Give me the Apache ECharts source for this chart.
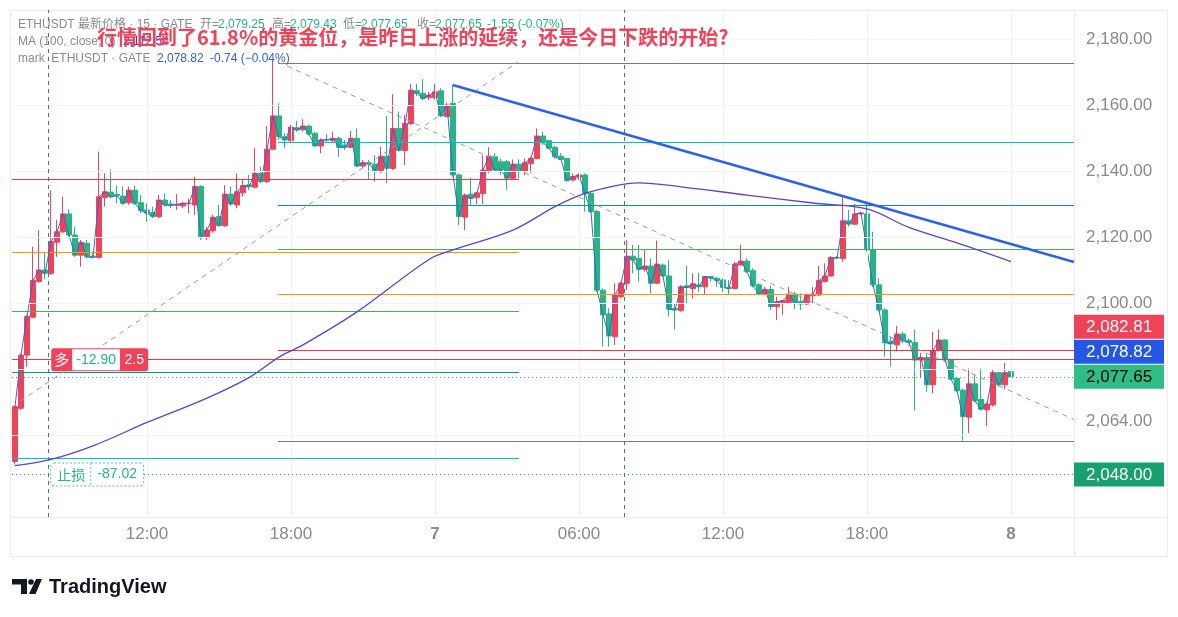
<!DOCTYPE html>
<html><head><meta charset="utf-8">
<script src="https://cdn.jsdelivr.net/npm/echarts@6/dist/echarts.min.js"></script>
<style>html,body{margin:0;padding:0;background:#fff;}#c{width:1178px;height:617px;}</style>
</head><body><div id="c"></div>
<script>
// ---------- DATA (15-minute candles, ETHUSDT) ----------
const opens = [2052.0,2068.1,2084.2,2095.7,2106.5,2110.0,2109.0,2118.4,2121.6,2127.0,
2120.6,2114.5,2118.1,2114.2,2113.8,2132.0,2133.6,2132.9,2132.4,2130.4,
2134.2,2130.4,2128.2,2127.4,2126.2,2131.2,2130.0,2129.6,2129.4,2130.1,
2129.7,2135.3,2120.1,2121.9,2126.2,2123.4,2133.0,2129.7,2133.4,2135.8,
2135.1,2139.3,2136.8,2146.6,2156.7,2150.4,2149.2,2153.1,2152.6,2153.6,
2151.4,2147.6,2149.6,2149.2,2149.9,2147.9,2147.2,2149.9,2141.5,2142.5,
2142.1,2140.1,2144.5,2140.8,2152.9,2146.2,2154.4,2164.3,2163.5,2162.3,
2162.3,2164.3,2156.5,2160.5,2138.8,2126.0,2133.0,2132.0,2133.2,2140.1,
2144.3,2142.8,2142.8,2137.8,2142.1,2139.8,2142.3,2143.8,2150.6,2149.2,
2147.2,2144.5,2143.8,2137.3,2138.1,2138.8,2133.2,2127.7,2103.9,2096.7,
2089.8,2101.9,2106.0,2114.2,2113.5,2110.2,2111.2,2106.0,2111.5,2108.2,
2098.3,2097.7,2105.2,2104.4,2105.5,2104.9,2108.0,2107.5,2107.0,2104.7,
2104.4,2111.5,2112.7,2109.8,2105.5,2102.7,2104.1,2098.9,2100.1,2100.1,
2102.7,2100.4,2099.7,2102.2,2102.4,2106.5,2108.2,2113.8,2113.5,2124.9,
2123.9,2127.0,2127.0,2116.1,2105.5,2097.9,2088.3,2087.3,2090.6,2088.6,
2088.0,2082.7,2083.5,2075.2,2085.6,2088.8,2082.7,2077.2,2073.6,2065.4,
2075.5,2070.8,2067.6,2069.1,2078.9,2075.2,2079.25];
const closes = [2068.6,2084.2,2095.9,2106.8,2110.0,2109.0,2118.6,2121.6,2127.0,2120.6,
2114.5,2118.4,2114.0,2113.8,2132.2,2133.7,2132.2,2132.5,2130.2,2134.2,
2130.2,2128.0,2127.2,2126.2,2131.2,2129.7,2129.6,2129.9,2130.2,2130.2,
2135.3,2120.1,2122.1,2126.0,2123.4,2133.0,2130.0,2133.7,2135.6,2135.2,
2139.3,2136.8,2146.6,2156.7,2150.4,2149.4,2153.3,2152.4,2153.6,2151.2,
2147.6,2149.4,2149.4,2149.9,2147.2,2147.2,2149.9,2141.5,2142.5,2142.1,
2140.1,2144.5,2140.8,2152.9,2146.2,2154.4,2164.5,2163.5,2162.0,2163.0,
2164.0,2156.7,2160.0,2138.8,2126.2,2132.7,2131.7,2133.4,2140.3,2144.5,
2140.3,2140.3,2137.8,2142.1,2139.8,2142.5,2143.8,2150.6,2148.6,2146.9,
2144.3,2143.5,2137.1,2138.3,2138.8,2133.2,2127.7,2103.9,2096.4,2090.0,
2102.4,2106.0,2114.2,2113.0,2110.2,2111.2,2106.0,2111.8,2108.2,2098.1,
2097.9,2104.9,2104.7,2105.8,2104.9,2108.0,2107.6,2106.8,2104.7,2104.4,
2111.8,2112.7,2109.5,2105.2,2102.7,2104.1,2098.9,2100.4,2100.7,2102.7,
2100.1,2099.7,2102.4,2102.7,2106.8,2108.2,2113.8,2113.6,2124.9,2123.9,
2127.0,2127.3,2116.1,2105.5,2097.9,2088.0,2087.6,2090.6,2088.6,2088.0,
2082.7,2083.5,2075.2,2085.6,2088.8,2082.7,2076.9,2073.4,2065.6,2075.5,
2070.4,2067.8,2069.4,2078.9,2075.2,2078.9,2077.65];
const lows = [2051.0,2067.6,2080.7,2095.4,2106.2,2107.2,2108.5,2114.0,2121.1,2120.1,
2114.0,2111.0,2113.5,2113.5,2113.5,2129.2,2131.7,2130.2,2129.7,2129.7,
2129.7,2127.2,2124.6,2125.7,2125.7,2129.2,2128.7,2128.2,2128.7,2127.2,
2126.7,2119.1,2119.1,2121.3,2123.1,2123.1,2129.4,2128.7,2132.2,2134.2,
2134.7,2136.3,2136.3,2146.4,2149.4,2146.9,2148.8,2151.9,2151.9,2150.9,
2147.2,2145.4,2148.9,2148.6,2144.3,2146.4,2146.9,2141.1,2140.8,2137.3,
2136.8,2139.3,2136.3,2140.3,2145.9,2141.8,2153.9,2162.7,2161.5,2161.5,
2161.7,2156.3,2156.3,2138.3,2123.6,2122.1,2129.7,2130.0,2130.0,2139.3,
2139.8,2138.8,2134.2,2137.3,2137.8,2138.8,2139.3,2143.5,2147.9,2146.6,
2143.8,2143.3,2136.8,2136.8,2137.3,2127.7,2127.2,2103.4,2086.8,2086.8,
2087.3,2101.4,2103.9,2109.0,2106.5,2109.5,2102.9,2105.8,2108.0,2095.9,
2092.0,2097.4,2099.9,2101.4,2103.4,2102.4,2106.5,2104.9,2103.4,2102.4,
2104.1,2111.5,2109.2,2104.7,2102.4,2102.4,2097.9,2094.8,2096.4,2099.7,
2098.1,2097.9,2099.4,2099.9,2102.2,2106.2,2108.0,2113.4,2112.5,2123.1,
2123.6,2126.7,2115.6,2104.9,2097.4,2083.7,2080.7,2085.3,2087.8,2087.8,
2067.4,2077.2,2073.1,2072.6,2085.3,2082.2,2076.7,2073.0,2058.3,2060.5,
2069.8,2067.4,2062.7,2068.6,2074.6,2073.8,2077.65];
const highs = [2068.6,2084.7,2096.4,2117.1,2122.1,2115.1,2134.2,2125.2,2132.2,2128.4,
2123.1,2119.1,2119.1,2115.1,2145.9,2139.3,2140.3,2135.6,2135.3,2135.3,
2135.6,2132.7,2130.2,2129.2,2132.7,2133.2,2131.2,2133.0,2130.7,2131.7,
2138.3,2135.7,2123.1,2126.7,2129.7,2135.7,2135.3,2139.3,2137.3,2138.8,
2146.9,2141.3,2153.6,2173.4,2160.5,2151.4,2153.9,2155.2,2155.7,2153.9,
2151.9,2149.9,2151.2,2151.9,2150.4,2149.4,2152.2,2152.9,2143.3,2143.3,
2144.8,2147.4,2156.7,2163.3,2158.0,2157.0,2166.4,2166.4,2167.8,2164.0,
2166.4,2165.1,2160.7,2166.1,2139.3,2133.2,2137.8,2133.7,2144.8,2147.2,
2145.4,2143.8,2143.3,2143.5,2143.5,2143.8,2144.3,2152.9,2151.9,2149.4,
2147.6,2145.4,2143.8,2139.3,2139.3,2139.3,2133.7,2128.2,2104.4,2098.4,
2106.0,2106.5,2119.1,2117.6,2117.6,2116.1,2113.5,2118.9,2112.0,2113.0,
2099.9,2105.5,2111.2,2109.0,2109.2,2108.2,2108.2,2108.0,2107.5,2107.0,
2112.5,2117.6,2113.5,2110.5,2106.0,2104.9,2105.2,2101.9,2100.9,2104.9,
2103.4,2102.9,2102.9,2104.9,2111.2,2112.0,2114.2,2114.2,2132.0,2128.2,
2130.0,2127.7,2130.2,2121.6,2107.5,2098.4,2089.8,2093.0,2091.3,2089.3,
2091.8,2084.9,2084.7,2091.3,2092.0,2089.0,2083.2,2077.5,2074.1,2080.2,
2078.2,2080.2,2069.8,2079.9,2079.2,2081.9,2079.43];

// MA(100) at bar indices
const maIdx  = [0, 6, 13, 22, 32, 39, 44, 48, 57, 69, 73, 83, 90, 95, 101, 104, 111, 122, 133, 142, 149, 157, 166];
const maVals = [2050.7,2052.6,2056.7,2063.8,2071.2,2077.4,2083.6,2087.3,2097.3,2113.2,2116.1,2122.1,2129.2,2133.2,2135.9,2136.4,2135.2,2132.7,2130.3,2128.5,2122.9,2118.2,2112.54];

// price-axis tick labels
const yTicks = [2064, 2100, 2120, 2140, 2160, 2180];
const gridPrices = [2060, 2080, 2100, 2120, 2140, 2160, 2180];

// fib retracement A (left) and B (right)
const fibARange = [-0.5, 84.0];
const fibALevels = [2137.58, 2115.45, 2097.58, 2079.09, 2053.03];
const fibBRange = [43.83, 176.5];
const fibBLevels = [2172.73, 2148.79, 2129.70, 2116.36, 2102.73, 2085.76, 2058.18];

// trend lines [barIndex, price]
const riseDash = [[-0.5, 2068.5], [83.83, 2173.03]];
const fallDash = [[43.83, 2173.03], [176.5, 2064.7]];
const blueTrend = [[72.95, 2166.06], [176.5, 2112.42]];
const sessionBreaks = [5.55, 101.55];

// position tool
const posStart = 5.95;
const entryPrice = 2082.81, stopPrice = 2048.00, lastPrice = 2077.65, markPrice = 2078.82;
const posPnl = '-12.90', posQty = '2.5', stopPnl = '-87.02';

// ---------- STYLE ----------
const FONT = '"Liberation Sans", Arial, "Noto Sans CJK SC", sans-serif';
const CJK = '"Noto Sans CJK SC", "Liberation Sans", sans-serif';
const UP = '#f0435a', DOWN = '#27b583';
const fibAColors = ['#f23645', '#ff9800', '#4caf50', '#089981', '#00bcd4'];
const fibBColors = ['#787b86', '#00bcd4', '#089981', '#4caf50', '#ff9800', '#f23645', '#787b86'];

const SLOTS = 177;
const firstBarMin = 6 * 1440 + 6 * 60 + 30;
const categories = [];
for (let i = 0; i < SLOTS; i++) {
  const m = firstBarMin + 15 * i;
  const d = Math.floor(m / 1440), hh = Math.floor((m % 1440) / 60), mm = m % 60;
  categories.push(d + ' ' + String(hh).padStart(2, '0') + ':' + String(mm).padStart(2, '0'));
}
function isMajor(c) { const t = c.split(' ')[1]; return +t.slice(3) === 0 && (+t.slice(0, 2)) % 6 === 0; }
const majorIdx = categories.map((c, i) => isMajor(c) ? i : -1).filter(i => i >= 0);
const fmt = v => Number(v).toLocaleString('en-US', { minimumFractionDigits: 2, maximumFractionDigits: 2 });

const candleData = opens.map((o, i) => [o, closes[i], lows[i], highs[i]]);

const lines = [];
gridPrices.forEach(v => lines.push({ yAxis: v, lineStyle: { color: '#f3f4f6', width: 1, type: 'solid' } }));
majorIdx.forEach(i => lines.push({ xAxis: i, lineStyle: { color: '#f0f1f4', width: 1, type: 'solid' } }));
fibALevels.forEach((v, i) => lines.push([{ coord: [fibARange[0], v], lineStyle: { color: fibAColors[i], width: 1, type: 'solid' } }, { coord: [fibARange[1], v] }]));
fibBLevels.forEach((v, i) => lines.push([{ coord: [fibBRange[0], v], lineStyle: { color: fibBColors[i], width: 1, type: 'solid' } }, { coord: [fibBRange[1], v] }]));
lines.push({ yAxis: entryPrice, lineStyle: { color: '#f23645', width: 1, type: 'solid' } });
lines.push({ yAxis: lastPrice, lineStyle: { color: '#27b583', width: 1, type: [1, 3] } });
lines.push({ yAxis: stopPrice, lineStyle: { color: '#1f9e74', width: 1, type: [1, 3] } });
lines.push([{ coord: riseDash[0], lineStyle: { color: '#9a9ca3', width: 1, type: [5, 5] } }, { coord: riseDash[1] }]);
lines.push([{ coord: fallDash[0], lineStyle: { color: '#9a9ca3', width: 1, type: [5, 5] } }, { coord: fallDash[1] }]);
lines.push([{ coord: blueTrend[0], lineStyle: { color: '#2e62ea', width: 2.6, type: 'solid' } }, { coord: blueTrend[1] }]);
sessionBreaks.forEach(x => lines.push({ xAxis: x, lineStyle: { color: '#4068d6', width: 1, type: [4, 4] } }));

const chart = echarts.init(document.getElementById('c'), null, { width: 1178, height: 617 });
chart.setOption({
  animation: false,
  backgroundColor: '#ffffff',
  grid: { left: 12, right: 104, top: 10, bottom: 100, containLabel: false },
  xAxis: [{
    type: 'category', data: categories, boundaryGap: true,
    axisLine: { show: false }, axisTick: { show: false }, splitLine: { show: false },
    axisLabel: {
      interval: (i, v) => isMajor(v), margin: 9, color: '#8a8a8a', fontSize: 17, fontFamily: FONT,
      formatter: v => { const [d, t] = v.split(' '); return t === '00:00' ? '{d|' + d + '}' : t; },
      rich: { d: { fontWeight: 'bold', fontSize: 17, color: '#8a8a8a', fontFamily: FONT } }
    }
  }, {
    type: 'value', min: -0.5, max: 176.5, show: false
  }],
  yAxis: {
    type: 'value', position: 'right', min: 2035.152, max: 2188.788, scale: true,
    axisLine: { show: false }, axisTick: { show: false, customValues: yTicks }, splitLine: { show: false },
    axisLabel: { customValues: yTicks, formatter: v => fmt(v), color: '#8a8a8a', fontSize: 17, fontFamily: FONT, margin: 12 }
  },
  series: [{
    type: 'candlestick', xAxisIndex: 0, data: candleData, barWidth: 4.6, z: 3,
    itemStyle: { color: UP, color0: DOWN, borderColor: UP, borderColor0: DOWN, borderWidth: 1 }
  }, {
    type: 'line', name: 'mark', xAxisIndex: 0, data: closes, showSymbol: false, symbol: 'none', z: 4,
    lineStyle: { color: '#3a62e0', width: 1 }, silent: true
  }, {
    type: 'line', name: 'MA', xAxisIndex: 1, data: maIdx.map((x, i) => [x, maVals[i]]), smooth: 0.35,
    showSymbol: false, symbol: 'none', z: 5, silent: true, clip: true,
    lineStyle: { color: '#5a44d8', width: 1.3 },
    markLine: { silent: true, animation: false, symbol: ['none', 'none'], label: { show: false }, emphasis: { disabled: true }, data: lines },
    markPoint: {
      silent: true, animation: false, symbol: 'rect', symbolSize: [1, 1], itemStyle: { color: 'rgba(0,0,0,0)' },
      data: [{
        coord: [posStart, entryPrice],
        label: {
          show: true, position: 'right', distance: 0,
          formatter: '{a|多}{b|' + posPnl + '}{c|' + posQty + '}',
          rich: {
            a: { backgroundColor: '#f0435a', color: '#fff', fontSize: 15, fontFamily: CJK, width: 21, height: 23, lineHeight: 23, align: 'center', borderRadius: [3, 0, 0, 3] },
            b: { backgroundColor: '#fff', borderColor: '#f0435a', borderWidth: 1, color: '#27b583', fontSize: 14, fontFamily: FONT, width: 48, height: 21, lineHeight: 21, align: 'center' },
            c: { backgroundColor: '#f0435a', color: '#fff', fontSize: 14, fontFamily: FONT, width: 28, height: 23, lineHeight: 23, align: 'center', borderRadius: [0, 3, 3, 0] }
          }
        }
      }, {
        coord: [posStart, stopPrice],
        label: {
          show: true, position: 'right', distance: 0,
          formatter: '{a|止损}{b|' + stopPnl + '}',
          rich: {
            a: { backgroundColor: '#fff', borderColor: '#5cc09c', borderWidth: 1, borderType: 'dotted', color: '#27b583', fontSize: 14, fontFamily: CJK, width: 40, height: 22, lineHeight: 22, align: 'center', borderRadius: [3, 0, 0, 3] },
            b: { backgroundColor: '#fff', borderColor: '#5cc09c', borderWidth: 1, borderType: 'dotted', color: '#27b583', fontSize: 14, fontFamily: FONT, width: 52, height: 22, lineHeight: 22, align: 'center', borderRadius: [0, 3, 3, 0] }
          }
        }
      }]
    }
  }]
});

// ---------- overlays (header, frame, price tags) ----------
function txt(x, y, text, color, size, weight, family) {
  return { type: 'text', x: x, y: y, silent: true, z: 50,
    style: { text: text, fill: color, font: (weight || 'normal') + ' ' + size + 'px ' + (family || FONT), textAlign: 'left', textVerticalAlign: 'middle', align: 'left', verticalAlign: 'middle' } };
}
const G = [];
G.push({ type: 'rect', silent: true, z: 1, shape: { x: 10.5, y: 10.5, width: 1157, height: 546 }, style: { fill: 'none', stroke: '#ececec', lineWidth: 1 } });
G.push({ type: 'line', silent: true, z: 1, shape: { x1: 1074.5, y1: 10, x2: 1074.5, y2: 557 }, style: { stroke: '#ececec', lineWidth: 1 } });
G.push({ type: 'line', silent: true, z: 1, shape: { x1: 10, y1: 517.5, x2: 1168, y2: 517.5 }, style: { stroke: '#ececec', lineWidth: 1 } });

const GREY = '#878b94', GRN = '#27b583', PUR = '#3b35c9', BLU = '#2e5ce6';
const HF = 12;
G.push(txt(18, 25, 'ETHUSDT 最新价格 · 15 · GATE', GREY, HF));
G.push(txt(200, 25, '开=', GREY, HF)); G.push(txt(218, 25, '2,079.25', GRN, HF));
G.push(txt(272, 25, '高=', GREY, HF)); G.push(txt(290, 25, '2,079.43', GRN, HF));
G.push(txt(343, 25, '低=', GREY, HF)); G.push(txt(361, 25, '2,077.65', GRN, HF));
G.push(txt(417, 25, '收=', GREY, HF)); G.push(txt(435, 25, '2,077.65', GRN, HF));
G.push(txt(487, 25, '-1.55 (-0.07%)', GRN, HF));
G.push(txt(18, 42, 'MA (100, close, 0)', GREY, HF)); G.push(txt(123, 42, '2,112.54', PUR, HF));
G.push(txt(18, 59, 'mark  ETHUSDT · GATE', GREY, HF)); G.push(txt(157, 59, '2,078.82', BLU, HF));
G.push(txt(210, 59, '-0.74 (−0.04%)', BLU, HF));
G.push(txt(97, 37, '行情回到了61.8%的黄金位，是昨日上涨的延续，还是今日下跌的开始?', '#f0435a', 20, 'bold', CJK));

// TradingView logo
G.push({ type: 'rect', silent: true, shape: { x: 12, y: 579, width: 15, height: 5.5 }, style: { fill: '#131722' } });
G.push({ type: 'rect', silent: true, shape: { x: 21, y: 579, width: 6, height: 15 }, style: { fill: '#131722' } });
G.push({ type: 'circle', silent: true, shape: { cx: 31, cy: 582, r: 2.8 }, style: { fill: '#131722' } });
G.push({ type: 'polygon', silent: true, shape: { points: [[36, 579], [42, 579], [35.5, 594], [29, 594]] }, style: { fill: '#131722' } });
G.push(txt(49, 587, 'TradingView', '#131722', 20, 'bold'));

// right price tags, stacked upward to avoid overlap
const yOf = v => chart.convertToPixel({ yAxisIndex: 0 }, v);
const yLast = yOf(lastPrice);
const yMark = Math.min(yOf(markPrice), yLast - 25);
const yEntry = Math.min(yOf(entryPrice), yMark - 25);
const yStop = yOf(stopPrice);
function tag(yc, v, bg, fg) {
  G.push({ type: 'rect', silent: true, z: 60, shape: { x: 1074, y: yc - 12, width: 90, height: 24 }, style: { fill: bg } });
  const t = txt(1086, yc + 0.5, fmt(v), fg, 17); t.z = 61; G.push(t);
}
tag(yEntry, entryPrice, '#f0435a', '#ffffff');
tag(yMark, markPrice, '#2656e6', '#ffffff');
tag(yLast, lastPrice, '#2ebd85', '#000000');
tag(yStop, stopPrice, '#17a070', '#ffffff');

chart.setOption({ graphic: { elements: G } });
</script></body></html>
